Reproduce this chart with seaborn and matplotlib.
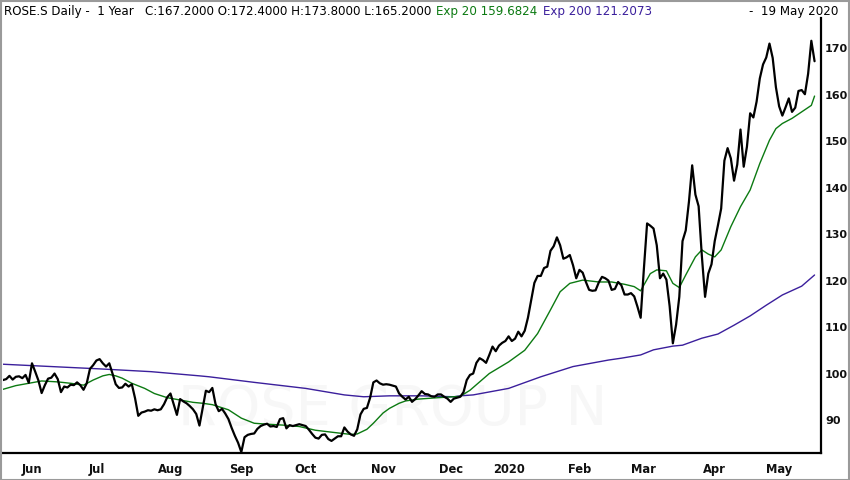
import numpy as np
import pandas as pd
import matplotlib
matplotlib.use("Agg")
import matplotlib.pyplot as plt
import seaborn as sns
from matplotlib.patches import Rectangle

# ---- data (daily closes, trading-day index) ----
close = [
    98.6, 98.8, 99.5, 98.7, 99.3, 99.4, 99.0, 99.7, 98.0, 102.2,
    100.4, 98.5, 95.8, 97.5, 98.9, 99.1, 100.0, 98.8, 96.0, 97.2,
    97.0, 97.6, 97.5, 98.1, 97.5, 96.5, 97.9, 101.0, 101.8, 102.8,
    103.1, 102.2, 101.5, 102.2, 100.0, 97.7, 96.9, 97.0, 97.8, 97.2,
    97.7, 94.7, 90.9, 91.6, 91.8, 92.1, 92.0, 92.3, 92.1, 92.3,
    93.4, 94.9, 95.7, 93.4, 91.1, 94.5, 94.0, 93.6, 93.0, 92.3,
    91.3, 88.8, 92.5, 96.3, 96.0, 96.9, 93.4, 91.9, 92.4, 91.4,
    90.2, 88.3, 86.6, 85.1, 83.1, 86.3, 86.8, 87.0, 87.1, 88.1,
    88.7, 89.0, 89.2, 88.6, 88.7, 88.5, 90.2, 90.4, 88.2, 88.9,
    88.7, 88.9, 89.1, 88.9, 88.7, 87.9, 87.0, 86.2, 86.0, 86.8,
    86.9, 85.9, 85.5, 86.0, 86.5, 86.5, 88.4, 87.5, 86.9, 86.6,
    88.0, 91.2, 92.4, 92.6, 94.8, 98.1, 98.5, 97.9, 97.6, 97.7,
    97.6, 97.4, 97.2, 95.7, 95.0, 94.4, 95.0, 93.9, 94.5, 95.3,
    96.2, 95.6, 95.5, 95.1, 95.0, 95.5, 95.5, 95.0, 94.6, 93.9,
    94.6, 94.8, 95.0, 96.0, 98.6, 99.7, 100.0, 102.3, 103.3, 102.9,
    102.3, 104.0, 105.8, 104.8, 106.0, 106.6, 107.0, 108.0, 107.0, 107.5,
    109.0, 108.0, 109.2, 112.0, 115.8, 119.5, 121.0, 121.0, 122.7, 123.0,
    126.4, 127.4, 129.3, 127.6, 124.7, 125.0, 125.5, 123.3, 120.5, 122.3,
    121.7, 119.7, 118.0, 117.8, 117.9, 119.6, 120.8, 120.5, 120.0, 118.0,
    118.2, 119.7, 119.0, 117.0, 117.0, 117.3, 116.6, 114.4, 112.0, 122.5,
    132.3, 131.8, 131.2, 127.6, 120.5, 121.5, 120.2, 114.5, 106.5, 110.5,
    116.5, 128.5, 130.8, 137.0, 144.8, 138.5, 136.0, 125.3, 116.5, 121.5,
    123.5, 128.5, 131.9, 135.5, 145.8, 148.5, 146.3, 141.5, 145.0, 152.5,
    144.5, 148.8, 156.0, 155.1, 158.5, 163.5, 166.5, 168.0, 171.0, 167.9,
    161.6, 157.5, 155.5, 157.3, 159.2, 156.3, 157.2, 160.8, 161.0, 160.1,
    164.5, 171.6, 167.2,
]

ema20_day = [0, 4, 8, 12, 17, 21, 25, 28, 31, 33, 35, 37, 40, 44, 47, 51, 55,
             59, 62, 65, 70, 74, 78, 82, 87, 92, 97, 103, 108, 110, 113, 115,
             118, 120, 123, 125, 129, 135, 140, 142, 145, 151, 157, 162, 166,
             170, 173, 176, 180, 185, 189, 193, 196, 198, 201, 203, 206, 208,
             210, 212, 215, 217, 219, 221, 223, 226, 229, 232, 235, 238, 240,
             242, 245, 248, 251, 252]
ema20_val = [96.6, 97.4, 97.9, 98.4, 98.2, 97.9, 97.5, 98.6, 99.5, 99.8, 99.5,
             99.0, 97.9, 96.8, 95.7, 94.8, 94.3, 93.8, 93.6, 93.3, 92.2, 90.4,
             89.3, 89.1, 88.9, 88.6, 87.8, 87.3, 86.9, 87.0, 88.0, 89.3, 91.5,
             92.5, 93.6, 94.1, 94.5, 94.8, 95.0, 95.1, 96.4, 100.0, 102.5,
             105.0, 108.6, 113.7, 117.6, 119.4, 120.1, 119.7, 119.7, 119.2,
             118.7, 117.8, 121.5, 122.3, 122.1, 119.4, 118.5, 121.2, 125.1,
             126.6, 125.7, 125.1, 126.6, 131.6, 135.9, 139.5, 145.2, 150.2,
             152.7, 153.8, 154.9, 156.3, 157.7, 159.7]

ema200_day = [0, 9, 30, 46, 61, 64, 78, 94, 106, 112, 120, 130, 140, 142, 146,
              157, 167, 177, 188, 192, 198, 202, 208, 211, 217, 222, 227, 232,
              237, 242, 248, 252]
ema200_val = [102.0, 101.7, 101.0, 100.4, 99.5, 99.3, 98.1, 96.8, 95.4, 95.0,
              95.2, 95.2, 95.0, 95.2, 95.4, 96.8, 99.3, 101.5, 102.9, 103.3,
              104.0, 105.1, 105.9, 106.1, 107.6, 108.5, 110.4, 112.4, 114.7,
              116.9, 118.8, 121.2]

month_labels = ["Jun", "Jul", "Aug", "Sep", "Oct", "Nov", "Dec", "2020",
                "Feb", "Mar", "Apr", "May"]
month_start_day = [9, 29, 52, 74, 94, 118, 139, 157, 179, 199, 221, 241]
price_ticks = [90, 100, 110, 120, 130, 140, 150, 160, 170]

header_main = "ROSE.S Daily -  1 Year   C:167.2000 O:172.4000 H:173.8000 L:165.2000"
header_e20 = "Exp 20 159.6824"
header_e200 = "Exp 200 121.2073"
header_date = "-  19 May 2020"
watermark = "ROSE GROUP N"

GREEN = "#0c7a12"
PURPLE = "#3b1f9c"

# ---- styling ----
sns.set_style("white")
plt.rcParams["font.family"] = ["DejaVu Sans"]

W, H = 850, 480
fig = plt.figure(figsize=(W / 100, H / 100), dpi=100)
fig.patch.set_facecolor("white")
ax = fig.add_axes([3 / W, 1 - 453 / H, (821 - 3) / W, (453 - 18) / H])

ax.text(0.476, 0.10, watermark, transform=ax.transAxes, ha="center",
        va="center", fontsize=40, color="#f7f7f7", zorder=0)

df_close = pd.DataFrame({"day": np.arange(len(close)), "value": close})
df_e20 = pd.DataFrame({"day": ema20_day, "value": ema20_val})
df_e200 = pd.DataFrame({"day": ema200_day, "value": ema200_val})

sns.lineplot(data=df_e200, x="day", y="value", ax=ax, color=PURPLE,
             linewidth=1.0, estimator=None, zorder=2)
sns.lineplot(data=df_e20, x="day", y="value", ax=ax, color=GREEN,
             linewidth=1.0, estimator=None, zorder=3)
sns.lineplot(data=df_close, x="day", y="value", ax=ax, color="black",
             linewidth=1.6, estimator=None, zorder=4)

ax.set_xlim(0, 254)
ax.set_ylim(82.9, 176.5)
ax.set_xlabel("")
ax.set_ylabel("")
ax.set_xticks(month_start_day)
ax.set_xticklabels(month_labels)
ax.set_yticks(price_ticks)
ax.set_yticklabels([str(t) for t in price_ticks])
ax.yaxis.tick_right()
for s in ["left", "top"]:
    ax.spines[s].set_visible(False)
for s in ["right", "bottom"]:
    ax.spines[s].set_visible(True)
    ax.spines[s].set_color("black")
    ax.spines[s].set_linewidth(1.6)
ax.tick_params(axis="x", direction="out", length=6, width=1.4, color="black",
               pad=1, labelsize=8.3, labelcolor="#111111")
ax.tick_params(axis="y", length=0, pad=3, labelsize=8.0, labelcolor="#111111")
for lab in ax.get_xticklabels() + ax.get_yticklabels():
    lab.set_fontweight("bold")
ax.grid(False)
ax.set_facecolor("white")

# ---- header ----
fig.canvas.draw()
renderer = fig.canvas.get_renderer()
hy = 1 - 11 / H
fs = 8.6
t1 = fig.text(4 / W, hy, header_main, fontsize=fs, color="black", va="center")
bb = t1.get_window_extent(renderer)
t2 = fig.text((bb.x1 + 5) / W, hy, header_e20, fontsize=fs, color=GREEN,
              va="center")
bb = t2.get_window_extent(renderer)
t3 = fig.text((bb.x1 + 5) / W, hy, header_e200, fontsize=fs, color=PURPLE,
              va="center")
fig.text(838 / W, hy, header_date, fontsize=fs, color="black", va="center",
         ha="right")

fig.add_artist(Rectangle((0.5 / W, 0.5 / H), (W - 1.5) / W, (H - 1.5) / H,
                         transform=fig.transFigure, fill=False,
                         edgecolor="#9a9a9a", linewidth=1.5))

fig.savefig("out.png", dpi=100, facecolor="white")
